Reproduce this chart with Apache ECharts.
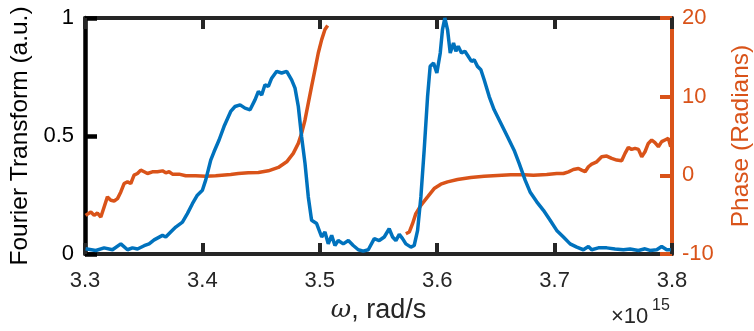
<!DOCTYPE html>
<html>
<head>
<meta charset="utf-8">
<script src="https://cdn.jsdelivr.net/npm/echarts@6/dist/echarts.min.js"></script>
<style>
  html, body { margin: 0; padding: 0; background: #fff; }
  #chart { width: 754px; height: 331px; }
</style>
</head>
<body>
<div id="chart"></div>
<script>
// omega in units of 1e15 rad/s
const ftOmega = [
  3.3005, 3.3092, 3.3163, 3.3234, 3.3305, 3.3362, 3.3404, 3.3447, 3.3504, 3.3546,
  3.3589, 3.3660, 3.3688, 3.3730, 3.3773, 3.3830, 3.3872, 3.3915, 3.3957, 3.4000,
  3.4028, 3.4071, 3.4099, 3.4142, 3.4184, 3.4241, 3.4278, 3.4321, 3.4363, 3.4406,
  3.4448, 3.4477, 3.4505, 3.4533, 3.4562, 3.4590, 3.4633, 3.4675, 3.4718, 3.4760,
  3.4789, 3.4817, 3.4845, 3.4874, 3.4902, 3.4930, 3.4973, 3.5016, 3.5044, 3.5072,
  3.5101, 3.5129, 3.5157, 3.5200, 3.5243, 3.5285, 3.5328, 3.5370, 3.5413, 3.5464,
  3.5506, 3.5549, 3.5591, 3.5620, 3.5648, 3.5677, 3.5705, 3.5733, 3.5776, 3.5804,
  3.5833, 3.5861, 3.5889, 3.5918, 3.5940, 3.5969, 3.5997, 3.6026, 3.6045, 3.6065,
  3.6088, 3.6111, 3.6139, 3.6159, 3.6179, 3.6207, 3.6236, 3.6264, 3.6292, 3.6315,
  3.6343, 3.6372, 3.6400, 3.6443, 3.6485, 3.6542, 3.6599, 3.6655, 3.6698, 3.6749,
  3.6791, 3.6848, 3.6905, 3.6962, 3.7018, 3.7075, 3.7132, 3.7189, 3.7245, 3.7288,
  3.7316, 3.7373, 3.7444, 3.7515, 3.7586, 3.7643, 3.7714, 3.7770, 3.7813, 3.7870,
  3.7912, 3.7955, 3.7990
];
const ftValue = [
  0.022, 0.015, 0.026, 0.018, 0.043, 0.018, 0.026, 0.021, 0.035, 0.043,
  0.060, 0.079, 0.072, 0.093, 0.114, 0.135, 0.171, 0.213, 0.249, 0.270,
  0.313, 0.398, 0.433, 0.483, 0.540, 0.604, 0.625, 0.632, 0.618, 0.611,
  0.653, 0.689, 0.674, 0.717, 0.710, 0.745, 0.774, 0.767, 0.774, 0.738,
  0.703, 0.625, 0.497, 0.384, 0.242, 0.143, 0.129, 0.072, 0.093, 0.043,
  0.079, 0.036, 0.057, 0.043, 0.057, 0.036, 0.018, 0.012, 0.018, 0.065,
  0.057, 0.072, 0.107, 0.072, 0.057, 0.083, 0.065, 0.043, 0.029, 0.036,
  0.100, 0.242, 0.440, 0.667, 0.795, 0.809, 0.767, 0.852, 0.951, 1.000,
  0.951, 0.852, 0.894, 0.859, 0.880, 0.852, 0.859, 0.838, 0.816, 0.823,
  0.795, 0.781, 0.738, 0.667, 0.611, 0.554, 0.497, 0.440, 0.384, 0.313,
  0.263, 0.221, 0.185, 0.143, 0.100, 0.072, 0.043, 0.029, 0.018, 0.032,
  0.018, 0.026, 0.026, 0.021, 0.018, 0.021, 0.015, 0.022, 0.015, 0.018,
  0.032, 0.018, 0.018
];

// phase, first branch (below the gap)
const phaseOmegaLow = [
  3.3005, 3.3050, 3.3078, 3.3106, 3.3135, 3.3163, 3.3191, 3.3220, 3.3248, 3.3277,
  3.3305, 3.3333, 3.3362, 3.3390, 3.3418, 3.3447, 3.3475, 3.3504, 3.3532, 3.3574,
  3.3617, 3.3660, 3.3688, 3.3716, 3.3745, 3.3801, 3.3858, 3.3943, 3.4028, 3.4113,
  3.4241, 3.4306, 3.4391, 3.4477, 3.4562, 3.4647, 3.4718, 3.4774, 3.4817, 3.4845,
  3.4874, 3.4902, 3.4930, 3.4959, 3.4987, 3.5016, 3.5044, 3.5067
];
const phaseLow = [
  -5.09, -4.66, -5.09, -4.79, -5.30, -4.02, -2.74, -3.17, -3.26, -2.96,
  -2.11, -1.04, -0.83, -1.04, 0.02, 0.23, 0.66, 0.45, 0.23, 0.45,
  0.45, 0.57, 0.32, 0.45, 0.15, 0.15, -0.06, -0.06, -0.11, -0.06,
  0.11, 0.23, 0.32, 0.36, 0.57, 1.00, 1.72, 2.79, 4.06, 5.34,
  7.04, 9.17, 11.30, 13.43, 15.55, 17.25, 18.53, 19.04
];

// phase, second branch (above the gap)
const phaseOmegaHigh = [
  3.5733, 3.5762, 3.5790, 3.5818, 3.5861, 3.5918, 3.5974, 3.6031, 3.6088, 3.6173,
  3.6286, 3.6400, 3.6513, 3.6627, 3.6740, 3.6820, 3.6933, 3.7018, 3.7075, 3.7118,
  3.7160, 3.7203, 3.7231, 3.7260, 3.7288, 3.7316, 3.7359, 3.7401, 3.7444, 3.7486,
  3.7529, 3.7571, 3.7600, 3.7628, 3.7656, 3.7685, 3.7714, 3.7742, 3.7770, 3.7798,
  3.7827, 3.7855, 3.7884, 3.7912, 3.7940, 3.7969, 3.7989
];
const phaseHigh = [
  -7.43, -7.21, -6.15, -4.87, -3.81, -2.74, -1.68, -1.13, -0.83, -0.53,
  -0.28, -0.11, -0.02, 0.06, 0.06, 0.02, 0.11, 0.23, 0.23, 0.45,
  0.74, 0.87, 0.66, 0.45, 1.09, 1.43, 1.72, 2.36, 2.45, 2.15,
  1.94, 1.85, 2.79, 3.55, 3.30, 3.43, 3.30, 2.36, 3.00, 4.06,
  4.49, 4.15, 3.64, 4.28, 4.49, 4.70, 3.64
];

const blue = "#0072BD";
const orange = "#D95319";
const dark = "#262626";
const font = "Liberation Sans";

const zip = (xs, ys) => xs.map((x, i) => [x, ys[i]]);

const chart = echarts.init(document.getElementById("chart"));
chart.setOption({
  animation: false,
  textStyle: { fontFamily: font },
  grid: { left: 85, right: 82, top: 18, bottom: 77, outerBoundsMode: "none" },
  xAxis: [
    {
      type: "value",
      min: 3.3,
      max: 3.8,
      interval: 0.1,
      name: "{i|ω}, rad/s",
      nameLocation: "middle",
      nameGap: 42,
      nameTextStyle: {
        fontFamily: font,
        fontSize: 27,
        color: dark,
        rich: {
          i: { fontFamily: "DejaVu Serif", fontStyle: "italic", fontSize: 25, color: dark },
        },
      },
      axisLine: { onZero: false, lineStyle: { color: dark, width: 4 } },
      axisTick: { inside: true, length: 11, lineStyle: { color: dark, width: 4 } },
      axisLabel: {
        margin: 16,
        fontSize: 22,
        color: dark,
        formatter: (v) => v.toFixed(1),
      },
      splitLine: { show: false },
    },
    {
      type: "value",
      position: "top",
      min: 3.3,
      max: 3.8,
      interval: 0.1,
      axisLine: { onZero: false, lineStyle: { color: dark, width: 4 } },
      axisTick: { inside: true, length: 11, lineStyle: { color: dark, width: 4 } },
      axisLabel: { show: false },
      splitLine: { show: false },
    },
  ],
  yAxis: [
    {
      type: "value",
      min: 0,
      max: 1,
      interval: 0.5,
      name: "Fourier Transform (a.u.)",
      nameLocation: "middle",
      nameRotate: 90,
      nameGap: 47,
      nameTextStyle: { fontSize: 24.5, color: "#000" },
      axisLine: { onZero: false, lineStyle: { color: "#000", width: 4.5 } },
      axisTick: { inside: true, length: 12, lineStyle: { color: "#000", width: 4.5 } },
      axisLabel: { margin: 11, fontSize: 22, color: "#000" },
      splitLine: { show: false },
    },
    {
      type: "value",
      position: "right",
      min: -10,
      max: 20,
      interval: 10,
      name: "Phase (Radians)",
      nameLocation: "middle",
      nameRotate: 90,
      nameGap: 57,
      nameTextStyle: { fontSize: 24.5, color: orange },
      axisLine: { onZero: false, lineStyle: { color: orange, width: 4 } },
      axisTick: { inside: true, length: 12, lineStyle: { color: orange, width: 4 } },
      axisLabel: { margin: 10, fontSize: 22, color: orange },
      splitLine: { show: false },
    },
  ],
  graphic: [
    {
      type: "text",
      left: 611,
      top: 306,
      style: { text: "×10", fontFamily: font, fontSize: 22, fill: dark },
    },
    {
      type: "text",
      left: 652,
      top: 298,
      style: { text: "15", fontFamily: font, fontSize: 16, fill: dark },
    },
  ],
  series: [
    {
      type: "line",
      xAxisIndex: 0,
      yAxisIndex: 0,
      data: zip(ftOmega, ftValue),
      showSymbol: false,
      lineStyle: { color: blue, width: 3.5 },
      itemStyle: { color: blue },
      z: 3,
    },
    {
      type: "line",
      xAxisIndex: 0,
      yAxisIndex: 1,
      data: zip(phaseOmegaLow, phaseLow),
      showSymbol: false,
      lineStyle: { color: orange, width: 3.5 },
      itemStyle: { color: orange },
      z: 2,
    },
    {
      type: "line",
      xAxisIndex: 0,
      yAxisIndex: 1,
      data: zip(phaseOmegaHigh, phaseHigh),
      showSymbol: false,
      lineStyle: { color: orange, width: 3.5 },
      itemStyle: { color: orange },
      z: 2,
    },
  ],
});
</script>
</body>
</html>
